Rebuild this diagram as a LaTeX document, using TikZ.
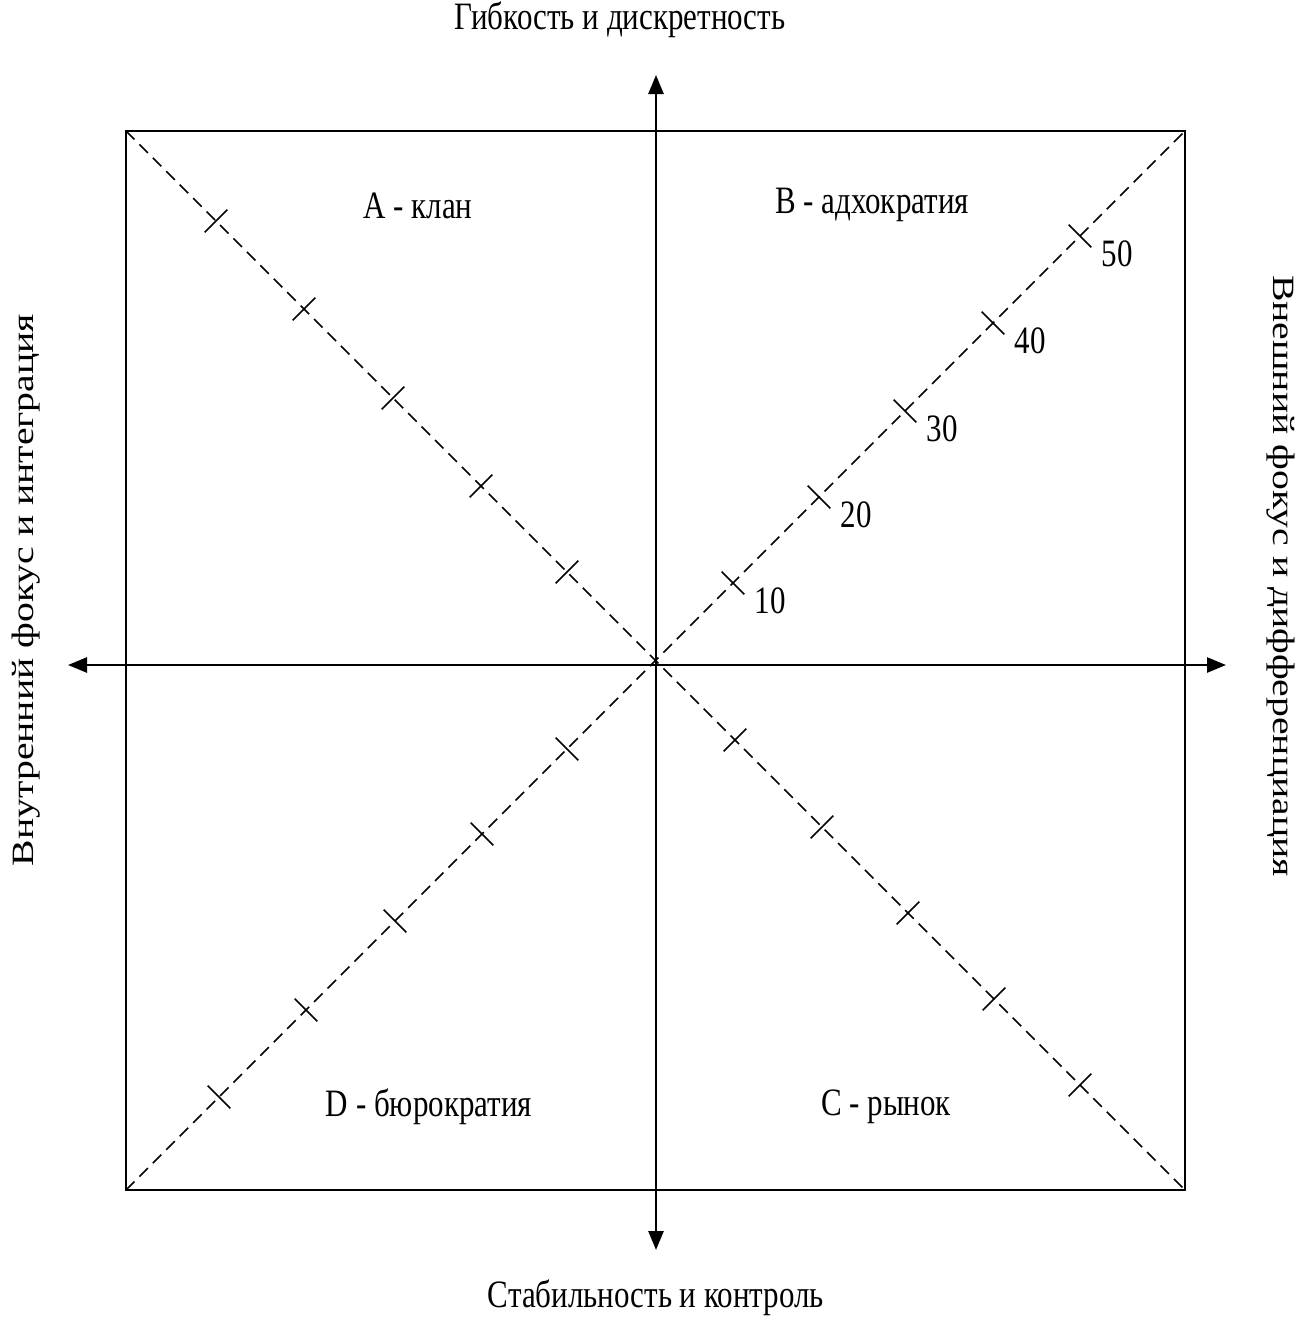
\documentclass[tikz,border=0pt]{standalone}
\usepackage{fontspec}
\usepackage{graphicx}
\setmainfont{Liberation Serif}
\usetikzlibrary{arrows.meta,calc}
\newcommand\tallt[1]{\scalebox{1}[1.25]{#1}}
\newcommand\longt[1]{\scalebox{1.28}[1]{#1}}
\begin{document}
\begin{tikzpicture}[x=1pt,y=-1pt,
  lbl/.style={font=\fontsize{31}{36}\selectfont, inner sep=0pt},
  side/.style={font=\fontsize{31}{36}\selectfont, inner sep=0pt},
  frame/.style={line width=2pt},
  axis/.style={line width=2.6pt, {Triangle[length=19pt,width=15pt]}-{Triangle[length=19pt,width=15pt]}},
  diag/.style={line width=1.6pt, dash pattern=on 12pt off 7pt},
  tickmark/.style={line width=1.6pt},
  num/.style={font=\fontsize{31}{36}\selectfont, inner sep=0pt}]
\useasboundingbox[fill=white] (0,0) rectangle (1306,1317);
% frame
\coordinate (TL) at (126,131);
\coordinate (TR) at (1185,131);
\coordinate (BR) at (1185,1190);
\coordinate (BL) at (126,1190);
\draw[frame] (TL) rectangle (BR);
% diagonals
\draw[diag] (TL) -- (BR);
\draw[diag] (BL) -- (TR);
% axes
\coordinate (N) at (656,75);
\coordinate (S) at (656,1250);
\coordinate (W) at (68,665);
\coordinate (E) at (1226,665);
\draw[axis] (S) -- (N);
\draw[axis] (W) -- (E);
% ticks on TL-BR diagonal (A and C)
\foreach \x in {567,481,393,304,216,735,822,908,994,1080}{
  \draw[tickmark] ({\x-11.3},{\x+5+11.3}) -- ({\x+11.3},{\x+5-11.3});
}
% ticks on BL-TR diagonal (B and D)
\foreach \x in {733,819,905,993,1080,567,482,395,306,219}{
  \draw[tickmark] ({\x-11.3},{1316-\x-11.3}) -- ({\x+11.3},{1316-\x+11.3});
}
% scale numbers
\foreach \x/\n in {733/10,819/20,905/30,993/40,1080/50}{
  \node[num] (n\n) at ({\x+37},{1316-\x+18}) {\tallt{\n}};
}
% labels
\node[lbl] (top) at (620,20) {\tallt{Гибкость и дискретность}};
\node[lbl] (bot) at (656,1298) {\tallt{Стабильность и контроль}};
\node[lbl] (qa) at (418,206) {\tallt{A - клан}};
\node[lbl] (qb) at (872,205) {\tallt{B - адхократия}};
\node[lbl] (qd) at (429,1107) {\tallt{D - бюрократия}};
\node[lbl] (qc) at (886,1107) {\tallt{C - рынок}};
\node[side, rotate=90] (left) at (26,590) {\longt{Внутренний фокус и интеграция}};
\node[side, rotate=-90] (right) at (1281,576) {\longt{Внешний фокус и дифференциация}};
\end{tikzpicture}
\end{document}
